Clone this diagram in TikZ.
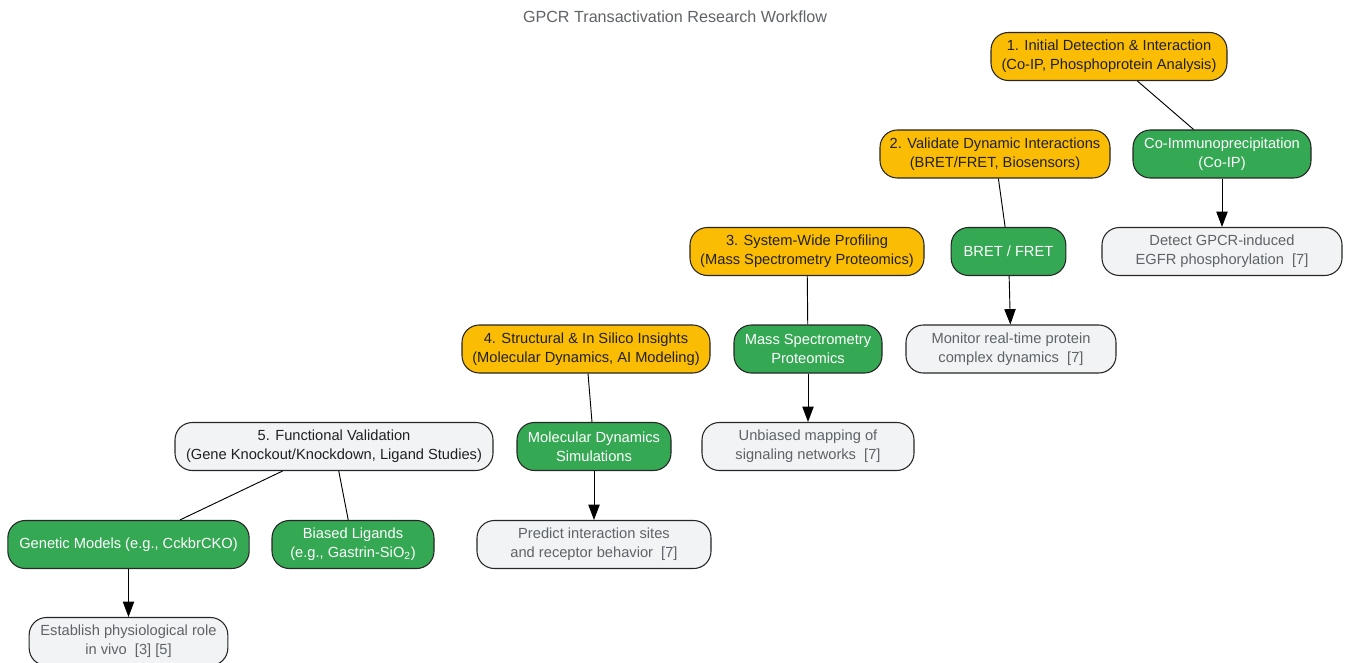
\documentclass[tikz,border=0pt]{standalone}
\usepackage{fontspec}
\setmainfont{Liberation Sans}
\usetikzlibrary{arrows.meta}
\definecolor{phaseorange}{HTML}{FBBC04}
\definecolor{toolgreen}{HTML}{34A853}
\definecolor{outgray}{HTML}{F1F3F4}
\definecolor{txtgray}{HTML}{5F6368}
\definecolor{txtdark}{HTML}{202124}
\tikzset{
  box/.style={draw=black!85, line width=0.8pt, rounded corners=13pt, align=center,
    minimum height=36pt, inner xsep=4pt, font=\fontsize{11}{14.2}\selectfont},
  phase/.style={box, fill=phaseorange, text=txtdark},
  tool/.style={box, fill=toolgreen, text=white},
  outcome/.style={box, fill=outgray, text=txtgray},
  link/.style={draw=black, line width=0.7pt},
  lead/.style={link, -{Triangle[length=11.5pt,width=8.5pt]}}
}
\begin{document}
\begin{tikzpicture}[x=0.75pt,y=-0.75pt]
\useasboundingbox (0,0) rectangle (1349,663);
\node (title) [text=txtgray, font=\fontsize{12.1}{14}\selectfont] at (675,17) {GPCR Transactivation Research Workflow};

% phases
\node (p1) [phase, minimum width=177pt] at (1109,56.5) {1. Initial Detection \& Interaction\\(Co-IP, Phosphoprotein Analysis)};
\node (p2) [phase, minimum width=172.5pt] at (995,154) {2. Validate Dynamic Interactions\\(BRET/FRET, Biosensors)};
\node (p3) [phase, minimum width=175.5pt] at (807,251.5) {3. System-Wide Profiling\\(Mass Spectrometry Proteomics)};
\node (p4) [phase, minimum width=186pt] at (586,349) {4. Structural \& In Silico Insights\\(Molecular Dynamics, AI Modeling)};
\node (p5) [box, fill=outgray, text=txtdark, minimum width=238.5pt] at (334,446.5) {5. Functional Validation\\(Gene Knockout/Knockdown, Ligand Studies)};

% tools
\node (coip) [tool, minimum width=133.5pt] at (1222,154) {Co-Immunoprecipitation\\(Co-IP)};
\node (bret) [tool, minimum width=86pt] at (1008.5,251.5) {BRET / FRET};
\node (mass) [tool, minimum width=111pt] at (808,349) {Mass Spectrometry\\Proteomics};
\node (mold) [tool, minimum width=115.5pt] at (594,446.5) {Molecular Dynamics\\Simulations};
\node (genet) [tool, minimum width=181pt] at (128.5,544.5) {Genetic Models (e.g., CckbrCKO)};
\node (bias) [tool, minimum width=121.5pt] at (353,544.5) {Biased Ligands\\(e.g., Gastrin-SiO\textsubscript{2})};

% outcomes
\node (detect) [outcome, minimum width=180pt] at (1222,251.5) {Detect GPCR-induced\\EGFR phosphorylation~ [7]};
\node (monit) [outcome, minimum width=157.5pt] at (1011,349) {Monitor real-time protein\\complex dynamics~ [7]};
\node (unbias) [outcome, minimum width=159pt] at (808,446.5) {Unbiased mapping of\\signaling networks~ [7]};
\node (pred) [outcome, minimum width=175.5pt] at (594,544.5) {Predict interaction sites\\and receptor behavior~ [7]};
\node (estab) [outcome, minimum width=149pt] at (128.5,641.5) {Establish physiological role\\in vivo~ [3] [5]};

\draw[link] (p1) -- (coip);
\draw[link] (p2) -- (bret);
\draw[link] (p3) -- (mass);
\draw[link] (p4) -- (mold);
\draw[link] (p5) -- (genet);
\draw[link] (p5) -- (bias);

\draw[lead] (coip) -- (detect);
\draw[lead] (bret) -- (monit);
\draw[lead] (mass) -- (unbias);
\draw[lead] (mold) -- (pred);
\draw[lead] (genet) -- (estab);
\end{tikzpicture}
\end{document}
